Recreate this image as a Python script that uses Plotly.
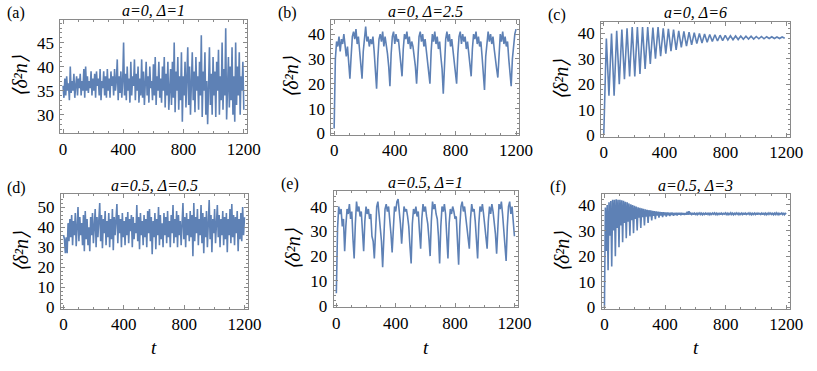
import numpy as np
import plotly.graph_objects as go

W, H = 817, 371
LINE = '#5E81B5'
FRAME = '#8a8a8a'
FONT = 'Liberation Serif, Times New Roman, serif'

# values, one list per panel
dn_a = [36, 33.5, 37.5, 34, 38, 35, 36.5, 33, 40, 34.5,
        37, 35, 38.5, 33.5, 36, 38, 34, 37.5, 35.5, 38.5,
        34, 37, 35, 39.5, 33.5, 40, 35, 38, 34.5, 37,
        35.5, 39, 34, 37.5, 35, 38.5, 33.5, 39, 36, 37.5,
        34, 39.5, 33, 37, 35.5, 39, 34, 38, 33.5, 39.5,
        35, 37.5, 33.5, 39, 36, 38, 34, 39.5, 35, 37,
        41.5, 33, 38, 34.5, 39, 33.5, 37, 45, 34, 38.5,
        33, 40, 35, 37.5, 32.5, 41, 34, 38, 36, 41.5,
        33, 38.5, 35, 40, 32.5, 37.5, 34, 41.5, 33.5, 39,
        32, 36.5, 41, 34, 38, 32.5, 40, 35.5, 37, 33,
        40.5, 34, 42, 32, 38, 35, 41, 33.5, 37.5, 32.5,
        40, 35, 42, 31.5, 38.5, 34, 41, 31, 37, 39.5,
        32, 41, 33.5, 45, 30.5, 39, 35, 42, 31, 38,
        33, 43, 28.5, 38, 34, 41, 31.5, 39, 44, 32,
        40, 30, 37.5, 43, 33, 39, 30.5, 42, 35, 38,
        31, 41, 34, 46.5, 29.5, 39, 35, 43, 30, 37,
        28, 40, 44, 32, 38.5, 30, 42, 34, 39, 29.5,
        41, 35, 43.5, 30, 38, 33, 45, 31, 39.5, 34,
        48, 29, 37, 42, 31.5, 40, 33, 44, 30, 38,
        28.5, 45, 32, 40, 34, 43, 30, 38, 35, 41,
        31]

dn_b = [2, 30, 37, 35, 39, 33, 38, 36, 40, 34, 31, 35, 29, 22,
        31, 39, 41, 38, 42, 36, 39, 34, 29, 22,
        33, 40, 43, 37, 39, 35, 38, 36, 39, 33, 27, 18,
        30, 38, 40, 37, 41, 35, 39, 36, 32, 27, 19,
        32, 39, 41, 36, 40, 37, 38, 33, 29, 23,
        34, 40, 38, 41, 36, 39, 34, 37, 35, 31, 27, 20,
        33, 39, 41, 37, 40, 35, 38, 33, 28, 26, 20,
        33, 40, 37, 41, 36, 39, 34, 37, 31, 26, 16,
        31, 38, 41, 37, 40, 35, 38, 33, 28, 25, 20,
        32, 39, 41, 36, 40, 37, 39, 34, 37, 32, 27, 23,
        34, 40, 38, 41, 36, 39, 35, 37, 31, 25, 17.5,
        31, 38, 41, 37, 40, 36, 39, 34, 29, 26, 22.5,
        33, 40, 37, 41, 36, 39, 35, 37, 30, 25, 19,
        30, 37, 40, 42]

dn_c = [0, 38, 15.5, 40, 15.5, 41, 20, 41.5, 22, 42,
        23, 42.5, 23, 42.5, 24, 42.5, 26, 42.5, 28, 42.3,
        30, 42.5, 31, 42, 32, 41.8, 33, 41.5, 33.5, 41,
        34.5, 40.8, 35, 40.5, 35.5, 40.3, 36, 40, 36.2, 39.8,
        36.5, 39.6, 36.8, 39.5, 37, 39.3, 37.2, 39.2, 37.4, 39.1,
        37.5, 39, 37.6, 39, 37.7, 38.9, 37.8, 38.9, 37.8, 38.8,
        37.9, 38.8, 37.9, 38.7, 38, 38.7, 38, 38.6, 38, 38.6,
        38.1]

dn_d = [36, 34, 27, 35, 27, 42, 33, 44, 35, 46,
        31, 43, 36, 47, 30.5, 44, 50, 33, 45, 36,
        42, 31, 46, 28, 48, 34, 44, 31, 40, 28,
        45, 36, 47, 32, 43, 49, 30, 45, 35, 42,
        52, 33, 46, 29.5, 44, 37, 48, 31, 43, 35,
        47, 30, 44, 34, 49, 28.5, 45, 36, 42, 51.5,
        32, 46, 37, 44, 30, 47, 35, 43, 31, 45,
        36, 47.5, 32, 44, 38, 46, 30, 45, 34, 42,
        37, 51, 33, 45, 29, 47, 36, 43, 31, 46,
        35, 44, 30, 48, 37, 49, 33, 45, 26.5, 43,
        35, 47, 29, 44, 36, 50, 31, 46, 34, 42,
        30, 47, 36, 45, 32, 48, 35, 43, 30, 46,
        37, 51, 32, 44, 35, 48, 30, 46, 36, 43,
        31, 49, 52, 34, 45, 30, 47, 36, 44, 33,
        48, 35, 46, 25.5, 52, 33, 45, 37, 49, 31,
        44, 36, 51, 32, 47, 27, 45, 35, 48, 30,
        43, 53.5, 34, 46, 27.5, 44, 37, 49, 32, 45,
        51, 35, 46, 30, 44, 36, 48, 31, 45, 34,
        47, 27.5, 44, 36, 49, 32, 51.5, 35, 46, 31,
        45, 37, 48, 28, 44, 34, 47, 33, 50, 36,
        45]

dn_e = [5, 31, 40, 37, 39, 32, 35, 22,
        32, 39, 37, 41, 35, 38, 27, 19,
        33, 42, 38, 40, 36, 38, 30, 22,
        34, 40, 37, 39, 35, 37, 28, 26, 19,
        32, 40, 42, 37, 34, 26, 15.5,
        31, 39, 41, 38, 40, 35, 29, 21.5,
        34, 40, 38, 42, 43, 39, 33, 25,
        35, 40, 38, 39, 36, 32, 24, 17,
        33, 39, 37, 40, 36, 38, 30, 23,
        35, 41, 38, 40, 36, 33, 27, 20,
        34, 42, 39, 41, 37, 35, 28, 17,
        32, 40, 38, 41, 37, 28, 19,
        33, 39, 37, 40, 38, 35, 36, 27, 16.5,
        32, 40, 42, 38, 40, 35, 30, 27, 23,
        35, 41, 38, 39, 34, 28, 19,
        33, 40, 38, 41, 37, 33, 28, 23,
        34, 40, 37, 41, 38, 34, 29, 21,
        33, 41, 39, 42, 37, 30, 24, 18,
        32, 40, 42, 37, 40, 35, 28]

dn_f = [0, 39, 22, 40, 14.5, 41, 28, 41.5, 16, 42,
        30, 42, 20, 42.2, 31, 42, 23.5, 42, 32, 41.8,
        25.5, 41.6, 33, 41.2, 27, 41, 33.5, 40.6, 28, 40.3,
        34, 40, 29, 39.7, 34.5, 39.4, 30, 39.1, 35, 38.9,
        31, 38.7, 35.2, 38.5, 32, 38.3, 35.4, 38.1, 33, 38,
        35.5, 37.9, 34, 37.7, 35.7, 37.6, 34.5, 37.5, 35.8, 37.4,
        35, 37.3, 35.9, 37.2, 35.3, 37.2, 36, 37.1, 35.5, 37.1,
        36, 37, 35.7, 37, 36.1, 37, 35.8, 36.9, 36.1, 36.9,
        35.9, 36.9, 36.2, 36.9, 36, 36.9, 36.2, 36.8, 36.1, 36.8,
        36.2, 37.4, 36.2, 37.6, 36.3,
        36.8, 36.3, 36.9, 36.2, 36.8, 36.3, 36.7, 36.2, 36.8, 36.4,
        36.9, 36.3, 36.8, 36.2, 36.7, 36.3, 36.8, 36.2, 36.9, 36.3,
        36.8, 36.2, 36.7, 36.3, 36.8, 36.4, 36.9, 36.3, 36.8, 36.2,
        36.7, 36.3, 36.9, 36.2, 36.8, 36.3, 36.7, 36.4, 36.9, 36.3,
        36.8, 36.2, 36.7, 36.3, 36.9, 36.3, 36.8, 36.2, 36.7, 36.3,
        36.9, 36.4, 36.8, 36.2, 36.7, 36.3, 36.8, 36.3, 36.9, 36.2,
        36.8, 36.3, 36.7, 36.4, 36.9, 36.3, 36.8, 36.2, 36.7, 36.3,
        36.8, 36.3, 36.9, 36.2, 36.8, 36.4, 36.7, 36.3, 36.8, 36.2,
        36.9, 36.3, 36.8, 36.2, 36.7, 36.3, 36.9, 36.4, 36.8, 36.3,
        36.7, 36.2, 36.8, 36.3, 36.9, 36.3, 36.8, 36.2, 36.7, 36.4,
        36.8, 36.3, 36.9, 36.2, 36.7, 36.4]

labels = ['(a)', '(b)', '(c)', '(d)', '(e)', '(f)']
titles = ['a=0, Δ=1', 'a=0, Δ=2.5', 'a=0, Δ=6',
          'a=0.5, Δ=0.5', 'a=0.5, Δ=1', 'a=0.5, Δ=3']
x_ticks = [0, 400, 800, 1200]

# panel setup: data, time step, frame box in px (left, right, top, bottom), y range, y ticks
panels = [
    (dn_a, 6, (59.5, 250, 20, 136.7), [26.1, 49.8], [30, 35, 40, 45], 1),
    (dn_b, 8, (336, 527.7, 20.7, 138), [-0.5, 45.6], [0, 10, 20, 30, 40], 2),
    (dn_c, 17, (611, 803.3, 22.3, 140), [-0.65, 44.6], [0, 10, 20, 30, 40], 2),
    (dn_d, 6, (60, 250.7, 199.3, 316.7), [-0.8, 56.3], [0, 10, 20, 30, 40, 50], 2),
    (dn_e, 8, (338.3, 526, 195.7, 315), [-0.7, 46.3], [0, 10, 20, 30, 40], 2),
    (dn_f, 6, (611.7, 803.3, 199, 316.7), [-0.6, 44.2], [0, 10, 20, 30, 40], 2),
]


def px(x, y):
    return x / W, 1 - y / H


def note(x, y, text, size, angle=0, style='normal'):
    fx, fy = px(x, y)
    return dict(x=fx, y=fy, xref='paper', yref='paper', text=text, showarrow=False,
                textangle=angle, xanchor='center', yanchor='middle',
                font=dict(family=FONT, size=size, color='black', style=style))


fig = go.Figure()
ann = []
for k, (vals, step, box, yr, yt, ymin) in enumerate(panels):
    n = '' if k == 0 else str(k + 1)
    t = np.arange(len(vals)) * step
    fig.add_trace(go.Scatter(x=t, y=vals, mode='lines', line=dict(color=LINE, width=1.6),
                             xaxis='x' + n, yaxis='y' + n, showlegend=False, hoverinfo='skip'))
    l, r, tp, b = box
    x0, y1 = px(l, tp)
    x1, y0 = px(r, b)
    common = dict(showline=True, linecolor=FRAME, linewidth=1, mirror='allticks',
                  ticks='inside', ticklen=4, tickcolor=FRAME, showgrid=False, zeroline=False,
                  tickfont=dict(family=FONT, size=17, color='black'))
    fig.update_layout(**{
        'xaxis' + n: dict(common, domain=[x0, x1], range=[-18, 1222], tickvals=x_ticks,
                          anchor='y' + n, ticklabelstandoff=0,
                          minor=dict(ticks='inside', ticklen=2, dtick=100, tickcolor=FRAME)),
        'yaxis' + n: dict(common, domain=[y0, y1], range=yr, tickvals=yt,
                          anchor='x' + n, ticklabelstandoff=2,
                          minor=dict(ticks='inside', ticklen=2, dtick=ymin, tickcolor=FRAME)),
    })
    cx = (l + r) / 2
    ann.append(note(cx, tp - 9, titles[k], 16, style='italic'))
    ann.append(note(l - 45, tp - 7, labels[k], 16))
    ann.append(note(l - 41, (tp + b) / 2, '⟨δ²n⟩', 20, -90, 'italic'))
    if k >= 3:
        ann.append(note(cx, 356, 't', 19, style='italic'))

fig.update_layout(width=W, height=H, margin=dict(l=0, r=0, t=0, b=0),
                  paper_bgcolor='white', plot_bgcolor='white', annotations=ann)
# drop the browser's default page margin so the figure sits at the window's corner
fig.write_html('out.html', config={'displayModeBar': False},
               post_script="document.body.style.margin='0';document.body.style.overflow='hidden';")
